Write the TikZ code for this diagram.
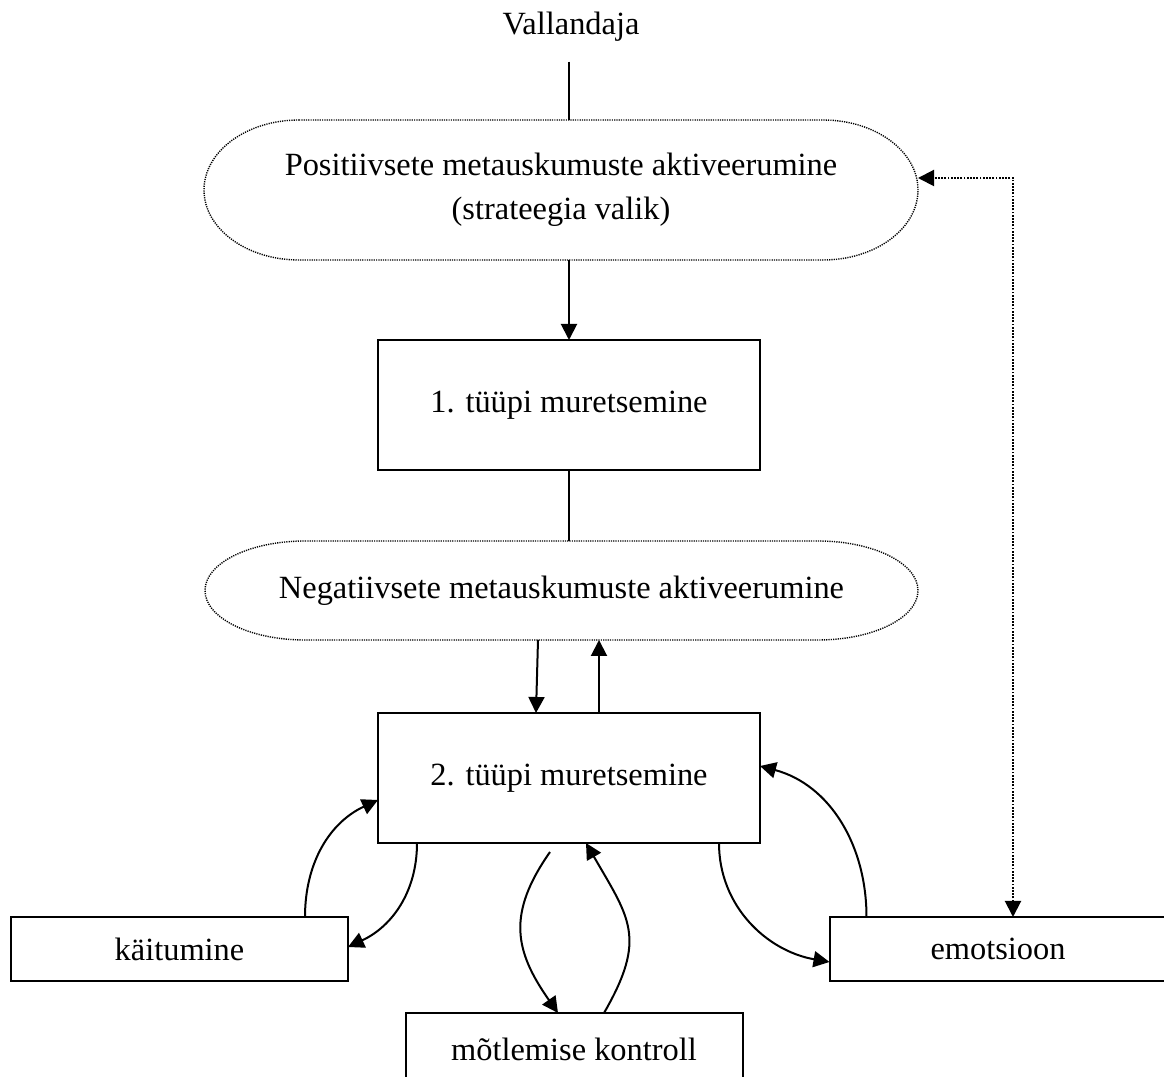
\documentclass[tikz,border=0pt]{standalone}
\usepackage{fontspec}
\setmainfont{Liberation Serif}
\usepackage{tikz}
\usetikzlibrary{arrows.meta,positioning,calc}
\newcommand{\dfont}{\fontsize{16.2}{22}\selectfont}
\tikzset{bx/.style={draw, line width=1pt, inner sep=0pt, outer sep=0pt, align=center, font=\dfont, minimum width=191pt, minimum height=65pt},
         sbx/.style={bx, minimum width=168.5pt, minimum height=32pt},
         ov/.style={inner sep=0pt, outer sep=0pt, align=center, font=\dfont},
         ln/.style={line width=1pt},
         arr/.style={-{Triangle[length=8pt,width=8pt]}, line width=1pt},
         dotline/.style={line width=0.7pt, dash pattern=on 0.6pt off 0.55pt},
         dotarr/.style={{Triangle[length=8pt,width=8pt]}-{Triangle[length=8pt,width=8pt]}, line width=1pt, dash pattern=on 0.9pt off 0.7pt}}
% dotted oval round a node: name, x radius, y radius
\newcommand{\ovalline}[3]{\draw[dotline] ([xshift=#2]#1.north west) -- ([xshift=-#2]#1.north east) arc[start angle=90,end angle=-90,x radius=#2,y radius=#3] -- ([xshift=#2]#1.south west) arc[start angle=270,end angle=90,x radius=#2,y radius=#3] -- cycle;}
\begin{document}
\begin{tikzpicture}[x=0.5pt, y=0.5pt]
\useasboundingbox (0,0) rectangle (1164,1077);
\node[ov] (v) at (571,1050) {Vallandaja};
\node[ov, minimum width=357pt, minimum height=70pt] (pos) at (561,887) {Positiivsete metauskumuste aktiveerumine\\(strateegia valik)};
\node[bx] (t1) at (569,672) {1. tüüpi muretsemine};
\node[ov, minimum width=356.5pt, minimum height=49.5pt] (neg) at (561.5,486.5) {Negatiivsete metauskumuste aktiveerumine};
\node[bx] (t2) at (569,299) {2. tüüpi muretsemine};
\node[sbx] (kai) at (179.5,128) {käitumine};
\node[sbx] (emo) at (998,128) {emotsioon};
\node[sbx, minimum height=36pt] (mot) at (574,28) {mõtlemise kontroll};
\ovalline{pos}{47.5pt}{35pt}
\ovalline{neg}{50pt}{24.75pt}
\draw[ln] ([yshift=-10pt]v.south -| t1.north) -- (pos.north -| t1.north);
\draw[arr] (pos.south -| t1.north) -- (t1.north);
\draw[ln] (t1.south) -- (neg.north -| t1.south);
\draw[arr] ([xshift=-15.5pt]neg.south -| t2.north) -- ([xshift=-16.5pt]t2.north);
\draw[arr] ([xshift=15pt]t2.north) -- ([xshift=15pt]neg.south -| t2.north);
\draw[arr] ([xshift=62.75pt]kai.north) to[out=90,in=205] ([yshift=-11pt]t2.west);
\draw[arr] ([xshift=19.5pt]t2.south west) to[out=-90,in=25] ([yshift=1pt]kai.east);
\draw[arr] ([xshift=-9.5pt,yshift=-4.5pt]t2.south) to[out=-125,in=125,looseness=1.2] ([xshift=-8pt]mot.north);
\draw[arr] ([xshift=15pt]mot.north) to[out=60,in=-60,looseness=1.3] ([xshift=8.5pt]t2.south);
\draw[arr] ([xshift=-20.5pt]t2.south east) to[out=-90,in=170] ([yshift=-6.5pt]emo.west);
\draw[arr] ([xshift=18.5pt]emo.north west) to[out=90,in=-15] ([yshift=6pt]t2.east);
\draw[dotarr] ([xshift=7.5pt]emo.north) |- ([yshift=6pt]pos.east);
\end{tikzpicture}
\end{document}
